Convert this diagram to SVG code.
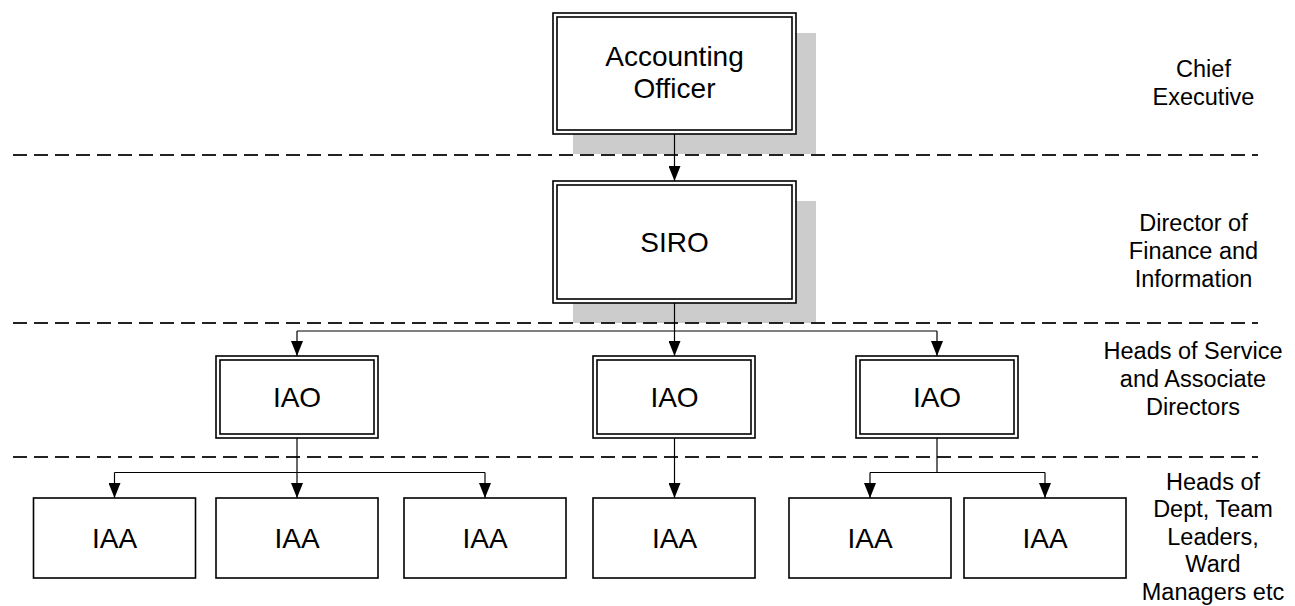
<svg xmlns="http://www.w3.org/2000/svg" width="1295" height="606" viewBox="0 0 1295 606">
<defs>
<style>
.shadow{fill:#cccccc;stroke:none}
.box{fill:#ffffff;stroke:#000;stroke-width:1.6}
.inner{fill:none;stroke:#000;stroke-width:1.6}
.t{font-family:"Liberation Sans",Arial,sans-serif;font-size:28px;text-anchor:middle;fill:#000}
.lbl{font-family:"Liberation Sans",Arial,sans-serif;font-size:23.5px;text-anchor:middle;fill:#000}
.dash{stroke:#222;stroke-width:2;stroke-dasharray:14 7;fill:none}
.con{stroke:#000;stroke-width:1.2;fill:none}
.arr{stroke:#000;stroke-width:1.2;fill:none;marker-end:url(#ah)}
</style>
<marker id="ah" viewBox="0 0 15 12" refX="15" refY="6" markerWidth="15" markerHeight="12" markerUnits="userSpaceOnUse" orient="auto">
<path d="M0,0 L15,6 L0,12 Z" fill="#000"/>
</marker>
</defs>
<rect width="1295" height="606" fill="#fff"/>

<g id="shadows">
<rect class="shadow" x="573" y="33" width="243" height="121"/>
<rect class="shadow" x="573" y="201" width="243" height="122"/>
</g>

<g id="tier-lines">
<line class="dash" x1="13" y1="155" x2="1258" y2="155"/>
<line class="dash" x1="13" y1="323" x2="1258" y2="323"/>
<line class="dash" x1="13" y1="457" x2="1258" y2="457"/>
</g>

<g id="connectors">
<path class="arr" d="M674.5 134 V181"/>
<path class="arr" d="M674.5 303 V356"/>
<path class="con" d="M297 331 H937"/>
<path class="arr" d="M297 331 V356"/>
<path class="arr" d="M937 331 V356"/>
<path class="arr" d="M297 438 V498"/>
<path class="con" d="M114.5 472.5 H485"/>
<path class="arr" d="M114.5 472.5 V498"/>
<path class="arr" d="M485 472.5 V498"/>
<path class="arr" d="M674.5 438 V498"/>
<path class="con" d="M937 438 V472.5"/>
<path class="con" d="M870 472.5 H1045"/>
<path class="arr" d="M870 472.5 V498"/>
<path class="arr" d="M1045 472.5 V498"/>
</g>

<g id="accounting-officer">
<rect class="box" x="553" y="13" width="243" height="121"/>
<rect class="inner" x="557" y="17" width="235" height="113"/>
<text class="t" x="674.5" y="66">Accounting</text>
<text class="t" x="674.5" y="98">Officer</text>
</g>

<g id="siro">
<rect class="box" x="553" y="181" width="243" height="122"/>
<rect class="inner" x="557" y="185" width="235" height="114"/>
<text class="t" x="674.5" y="252">SIRO</text>
</g>

<g id="iao-1">
<rect class="box" x="216" y="356" width="162" height="82"/>
<rect class="inner" x="220" y="360" width="154" height="74"/>
<text class="t" x="297" y="407">IAO</text>
</g>
<g id="iao-2">
<rect class="box" x="593" y="356" width="162" height="82"/>
<rect class="inner" x="597" y="360" width="154" height="74"/>
<text class="t" x="674.5" y="407">IAO</text>
</g>
<g id="iao-3">
<rect class="box" x="856" y="356" width="162" height="82"/>
<rect class="inner" x="860" y="360" width="154" height="74"/>
<text class="t" x="937" y="407">IAO</text>
</g>

<g id="iaa-1">
<rect class="box" x="33.5" y="498" width="162" height="80"/>
<text class="t" x="114.5" y="548">IAA</text>
</g>
<g id="iaa-2">
<rect class="box" x="216" y="498" width="162" height="80"/>
<text class="t" x="297" y="548">IAA</text>
</g>
<g id="iaa-3">
<rect class="box" x="404" y="498" width="162" height="80"/>
<text class="t" x="485" y="548">IAA</text>
</g>
<g id="iaa-4">
<rect class="box" x="593" y="498" width="162" height="80"/>
<text class="t" x="674.5" y="548">IAA</text>
</g>
<g id="iaa-5">
<rect class="box" x="789" y="498" width="162" height="80"/>
<text class="t" x="870" y="548">IAA</text>
</g>
<g id="iaa-6">
<rect class="box" x="964" y="498" width="162" height="80"/>
<text class="t" x="1045" y="548">IAA</text>
</g>

<g id="label-chief-executive">
<text class="lbl" x="1203.5" y="77">Chief</text>
<text class="lbl" x="1203.5" y="105">Executive</text>
</g>
<g id="label-director">
<text class="lbl" x="1193.5" y="231">Director of</text>
<text class="lbl" x="1193.5" y="259">Finance and</text>
<text class="lbl" x="1193.5" y="287">Information</text>
</g>
<g id="label-heads-of-service">
<text class="lbl" x="1193" y="359">Heads of Service</text>
<text class="lbl" x="1193" y="387">and Associate</text>
<text class="lbl" x="1193" y="415">Directors</text>
</g>
<g id="label-heads-of-dept">
<text class="lbl" x="1213" y="490">Heads of</text>
<text class="lbl" x="1213" y="517">Dept, Team</text>
<text class="lbl" x="1213" y="544.5">Leaders,</text>
<text class="lbl" x="1213" y="572">Ward</text>
<text class="lbl" x="1213" y="599.5">Managers etc</text>
</g>
</svg>
